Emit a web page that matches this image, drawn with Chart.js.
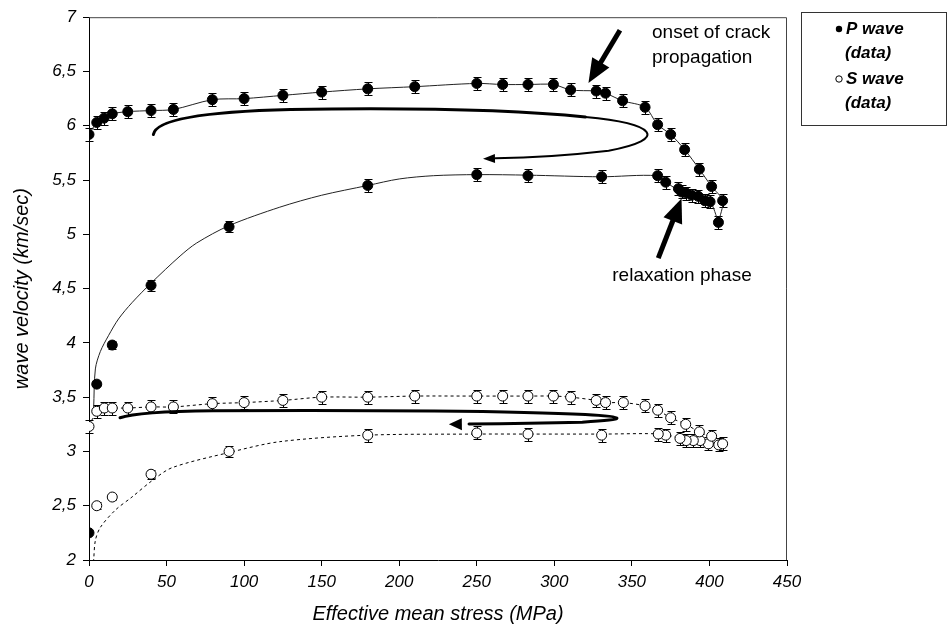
<!DOCTYPE html>
<html>
<head>
<meta charset="utf-8">
<script src="https://cdn.jsdelivr.net/npm/chart.js@4.4.1/dist/chart.umd.min.js"></script>
<style>
  html, body { margin: 0; padding: 0; background: #fff; }
</style>
</head>
<body>
<canvas id="myChart" width="949" height="633"></canvas>
<script>
Chart.defaults.color = '#000';
Chart.defaults.font.family = 'Liberation Sans';

// P wave, loading path (data points)
const pLoadX = [0, 5, 9.7, 15, 25, 40, 54.4, 79.5, 100, 125, 150, 179.7, 210, 250, 266.7, 283, 299.4, 310.5, 327, 333, 344, 358.5, 366.6, 375, 384, 393.5, 401.4, 408.5, 405.8];
const pLoadY = [5.92, 6.03, 6.07, 6.11, 6.13, 6.14, 6.15, 6.24, 6.25, 6.28, 6.31, 6.34, 6.36, 6.39, 6.38, 6.38, 6.38, 6.33, 6.32, 6.30, 6.23, 6.17, 6.01, 5.92, 5.78, 5.60, 5.44, 5.31, 5.11];
const pLoadErr = [0.06, 0.06, 0.06, 0.06, 0.06, 0.06, 0.06, 0.06, 0.06, 0.06, 0.06, 0.06, 0.06, 0.06, 0.06, 0.06, 0.06, 0.06, 0.06, 0.06, 0.06, 0.06, 0.06, 0.06, 0.06, 0.06, 0.06, 0.06, 0.06];

// P wave, unloading path (data points)
const pUnloadX = [400.4, 397, 392.8, 388.5, 385, 382, 380, 371.8, 366.6, 330.5, 283, 250, 179.7, 90.3, 40, 15, 5, 0];
const pUnloadY = [5.30, 5.31, 5.35, 5.36, 5.38, 5.39, 5.42, 5.48, 5.54, 5.53, 5.54, 5.55, 5.45, 5.07, 4.53, 3.98, 3.62, 2.25];
const pUnloadErr = [0.06, 0.06, 0.06, 0.06, 0.06, 0.06, 0.06, 0.06, 0.06, 0.06, 0.06, 0.06, 0.06, 0.05, 0.05, 0.04, 0, 0];

// S wave, loading path (data points)
const sLoadX = [0, 5, 9.9, 15, 25, 40, 54.4, 79.5, 100, 125, 150, 179.7, 210, 250, 266.7, 283, 299.4, 310.5, 327, 333, 344.5, 358.5, 366.6, 375, 384.7, 393.5, 401.4, 408.5];
const sLoadY = [3.23, 3.37, 3.40, 3.40, 3.40, 3.41, 3.41, 3.44, 3.45, 3.47, 3.50, 3.50, 3.51, 3.51, 3.51, 3.51, 3.51, 3.50, 3.47, 3.45, 3.45, 3.42, 3.38, 3.31, 3.25, 3.18, 3.14, 3.07];
const sLoadErr = [0.06, 0.06, 0.06, 0.06, 0.06, 0.06, 0.06, 0.06, 0.06, 0.06, 0.06, 0.06, 0.06, 0.06, 0.06, 0.06, 0.06, 0.06, 0.06, 0.06, 0.06, 0.06, 0.06, 0.06, 0.06, 0.06, 0.06, 0.06];

// S wave, unloading path (data points)
const sUnloadX = [406, 399.3, 394, 389.6, 385, 381, 371.8, 367, 330.5, 283, 250, 179.7, 90.3, 40, 15, 5];
const sUnloadY = [3.06, 3.07, 3.10, 3.10, 3.10, 3.12, 3.15, 3.16, 3.15, 3.16, 3.17, 3.15, 3.00, 2.79, 2.58, 2.50];
const sUnloadErr = [0.06, 0.06, 0.06, 0.06, 0.06, 0.06, 0.06, 0.06, 0.06, 0.06, 0.06, 0.06, 0.05, 0.04, 0.03, 0.03];

// fitted unloading curves
const pFitX = [405.8, 400.4, 392, 382, 372, 366, 330, 283, 250, 222, 200, 179.7, 150, 123, 90.3, 69.4, 58.7, 40, 27.7, 19, 12.7, 7.3, 4.1, 3];
const pFitY = [5.11, 5.30, 5.35, 5.39, 5.48, 5.54, 5.53, 5.545, 5.55, 5.54, 5.51, 5.45, 5.36, 5.25, 5.08, 4.92, 4.80, 4.55, 4.37, 4.22, 4.07, 3.92, 3.76, 3.40];
const sFitX = [406, 399, 390, 381, 370, 330, 283, 250, 179.7, 123, 90.3, 53.5, 40.6, 27.7, 17, 7.3, 4.1, 3];
const sFitY = [3.06, 3.07, 3.10, 3.12, 3.16, 3.16, 3.16, 3.16, 3.15, 3.09, 2.99, 2.85, 2.73, 2.58, 2.46, 2.30, 2.18, 2.0];

const xTicks = [0, 50, 100, 150, 200, 250, 300, 350, 400, 450];
const yTicks = [2, 2.5, 3, 3.5, 4, 4.5, 5, 5.5, 6, 6.5, 7];
const yTickLabels = ['2', '2,5', '3', '3,5', '4', '4,5', '5', '5,5', '6', '6,5', '7'];

const toXY = (xs, ys) => xs.map((x, i) => ({ x: x, y: ys[i] }));

// vertical error bars, drawn under the markers
const errorBars = {
  id: 'errorBars',
  beforeDatasetsDraw(chart) {
    const ctx = chart.ctx;
    const yS = chart.scales.y;
    chart.data.datasets.forEach((ds, i) => {
      if (!ds.err) return;
      const meta = chart.getDatasetMeta(i);
      ctx.save();
      ctx.strokeStyle = '#000';
      ctx.lineWidth = 1;
      meta.data.forEach((pt, j) => {
        const e = ds.err[j];
        if (!e) return;
        const v = ds.data[j].y;
        const top = Math.round(yS.getPixelForValue(v + e)) + 0.5;
        const bot = Math.round(yS.getPixelForValue(v - e)) + 0.5;
        const px = Math.round(pt.x) + 0.5;
        ctx.beginPath();
        ctx.moveTo(px, top); ctx.lineTo(px, bot);
        ctx.moveTo(px - 4, top); ctx.lineTo(px + 4, top);
        ctx.moveTo(px - 4, bot); ctx.lineTo(px + 4, bot);
        ctx.stroke();
      });
      ctx.restore();
    });
  }
};

function arrowHead(ctx, tx, ty, fx, fy, len, half) {
  const a = Math.atan2(ty - fy, tx - fx);
  ctx.beginPath();
  ctx.moveTo(tx, ty);
  ctx.lineTo(tx - len * Math.cos(a) + half * Math.sin(a), ty - len * Math.sin(a) - half * Math.cos(a));
  ctx.lineTo(tx - len * Math.cos(a) - half * Math.sin(a), ty - len * Math.sin(a) + half * Math.cos(a));
  ctx.closePath();
  ctx.fill();
}

// frame, loop arrows, labels and legend
const notes = {
  id: 'notes',
  afterDraw(chart) {
    const { ctx, chartArea: a, scales: { x, y } } = chart;
    const X = v => x.getPixelForValue(v);
    const Y = v => y.getPixelForValue(v);
    const bez = (c1x, c1y, c2x, c2y, ex, ey) => ctx.bezierCurveTo(X(c1x), Y(c1y), X(c2x), Y(c2y), X(ex), Y(ey));
    ctx.save();

    // top and right frame
    ctx.strokeStyle = '#444';
    ctx.lineWidth = 1;
    ctx.beginPath();
    ctx.moveTo(a.left, a.top + 0.5);
    ctx.lineTo(a.right - 0.5, a.top + 0.5);
    ctx.lineTo(a.right - 0.5, a.bottom);
    ctx.stroke();

    ctx.strokeStyle = '#000';
    ctx.fillStyle = '#000';
    ctx.lineCap = 'round';

    // P wave loop
    ctx.lineWidth = 3;
    ctx.beginPath();
    ctx.moveTo(X(41.5), Y(5.92));
    bez(43, 6.05, 70, 6.13, 130, 6.15);
    bez(200, 6.165, 270, 6.155, 320, 6.08);
    ctx.stroke();
    ctx.lineWidth = 2;
    ctx.beginPath();
    ctx.moveTo(X(320), Y(6.08));
    bez(365, 6.02, 375, 5.88, 335, 5.77);
    bez(305, 5.72, 285, 5.705, 262, 5.70);
    ctx.stroke();
    arrowHead(ctx, X(254), Y(5.695), X(270), Y(5.70), 12, 4.5);

    // S wave loop
    ctx.lineWidth = 3;
    ctx.beginPath();
    ctx.moveTo(X(20), Y(3.31));
    bez(28, 3.35, 45, 3.37, 80, 3.375);
    bez(180, 3.385, 280, 3.37, 320, 3.34);
    bez(345, 3.32, 350, 3.295, 318, 3.27);
    bez(290, 3.26, 260, 3.255, 245, 3.253);
    ctx.stroke();
    arrowHead(ctx, X(232), Y(3.25), X(250), Y(3.253), 13, 6);

    // straight arrows
    ctx.lineWidth = 5;
    ctx.lineCap = 'butt';
    const straight = (fx, fy, tx, ty) => {
      const x0 = X(fx), y0 = Y(fy), x1 = X(tx), y1 = Y(ty);
      const ang = Math.atan2(y1 - y0, x1 - x0);
      ctx.beginPath();
      ctx.moveTo(x0, y0);
      ctx.lineTo(x1 - 18 * Math.cos(ang), y1 - 18 * Math.sin(ang));
      ctx.stroke();
      arrowHead(ctx, x1, y1, x0, y0, 24, 10);
    };
    straight(342.3, 6.88, 322, 6.395);
    straight(367, 4.78, 382, 5.33);

    // labels
    ctx.font = '19px "Liberation Sans"';
    ctx.textBaseline = 'middle';
    ctx.textAlign = 'left';
    ctx.fillText('onset of crack', X(363), Y(6.86));
    ctx.fillText('propagation', X(363), Y(6.63));
    ctx.textAlign = 'center';
    ctx.fillText('relaxation phase', X(382.3), Y(4.62));

    // legend box
    ctx.lineWidth = 1;
    ctx.strokeStyle = '#333';
    ctx.strokeRect(801.5, 12.5, 145, 113);
    ctx.beginPath();
    ctx.arc(839, 29, 3.2, 0, Math.PI * 2);
    ctx.fill();
    ctx.beginPath();
    ctx.arc(839, 79, 3.2, 0, Math.PI * 2);
    ctx.fillStyle = '#fff';
    ctx.fill();
    ctx.strokeStyle = '#000';
    ctx.stroke();
    ctx.fillStyle = '#000';
    ctx.textAlign = 'left';
    ctx.font = 'italic bold 17px "Liberation Sans"';
    ctx.fillText('P wave', 846, 29);
    ctx.fillText('(data)', 845, 53);
    ctx.fillText('S wave', 846, 79);
    ctx.fillText('(data)', 845, 103);
    ctx.restore();
  }
};

const ctx = document.getElementById('myChart');

new Chart(ctx, {
  type: 'scatter',
  data: {
    datasets: [
      {
        label: 'P wave (data)',
        data: toXY(pLoadX, pLoadY),
        err: pLoadErr,
        showLine: true,
        tension: 0.3,
        borderColor: '#222',
        borderWidth: 1,
        pointRadius: 5,
        pointBackgroundColor: '#000',
        pointBorderColor: '#000'
      },
      {
        label: 'P wave unloading',
        data: toXY(pUnloadX, pUnloadY),
        err: pUnloadErr,
        showLine: false,
        pointRadius: 5,
        pointBackgroundColor: '#000',
        pointBorderColor: '#000'
      },
      {
        label: 'S wave (data)',
        data: toXY(sLoadX, sLoadY),
        err: sLoadErr,
        showLine: true,
        tension: 0.3,
        borderColor: '#000',
        borderWidth: 1,
        borderDash: [3, 3],
        pointRadius: 5,
        pointBackgroundColor: '#fff',
        pointBorderColor: '#000',
        pointBorderWidth: 1
      },
      {
        label: 'S wave unloading',
        data: toXY(sUnloadX, sUnloadY),
        err: sUnloadErr,
        showLine: false,
        pointRadius: 5,
        pointBackgroundColor: '#fff',
        pointBorderColor: '#000',
        pointBorderWidth: 1
      },
      {
        label: 'P fit',
        data: toXY(pFitX, pFitY),
        showLine: true,
        tension: 0.3,
        borderColor: '#222',
        borderWidth: 1,
        pointRadius: 0
      },
      {
        label: 'S fit',
        data: toXY(sFitX, sFitY),
        showLine: true,
        tension: 0.3,
        borderColor: '#000',
        borderWidth: 1,
        borderDash: [3, 3],
        pointRadius: 0
      }
    ]
  },
  options: {
    responsive: false,
    animation: false,
    layout: { padding: { top: 12, right: 162, left: 0, bottom: 0 } },
    plugins: {
      legend: { display: false },
      tooltip: { enabled: false }
    },
    scales: {
      x: {
        type: 'linear',
        min: 0,
        max: 450,
        afterBuildTicks: s => { s.ticks = xTicks.map(v => ({ value: v })); },
        afterFit: s => { s.height = 73; },
        ticks: { font: { size: 17, style: 'italic' }, padding: 6, maxRotation: 0 },
        grid: { drawOnChartArea: false, tickLength: 6, color: '#000' },
        border: { color: '#000' },
        title: {
          display: true,
          text: 'Effective mean stress (MPa)',
          font: { size: 20, style: 'italic' },
          padding: { top: 0, bottom: 7 }
        }
      },
      y: {
        type: 'linear',
        min: 2,
        max: 7,
        afterBuildTicks: s => { s.ticks = yTicks.map(v => ({ value: v })); },
        afterFit: s => { s.width = 89; },
        ticks: {
          font: { size: 17, style: 'italic' },
          padding: 7,
          callback: v => yTickLabels[yTicks.indexOf(v)]
        },
        grid: { drawOnChartArea: false, tickLength: 6, color: '#000' },
        border: { color: '#000' },
        title: {
          display: true,
          text: 'wave velocity (km/sec)',
          font: { size: 20, style: 'italic' },
          padding: { top: 10, bottom: 0 }
        }
      }
    }
  },
  plugins: [errorBars, notes]
});
</script>
</body>
</html>
